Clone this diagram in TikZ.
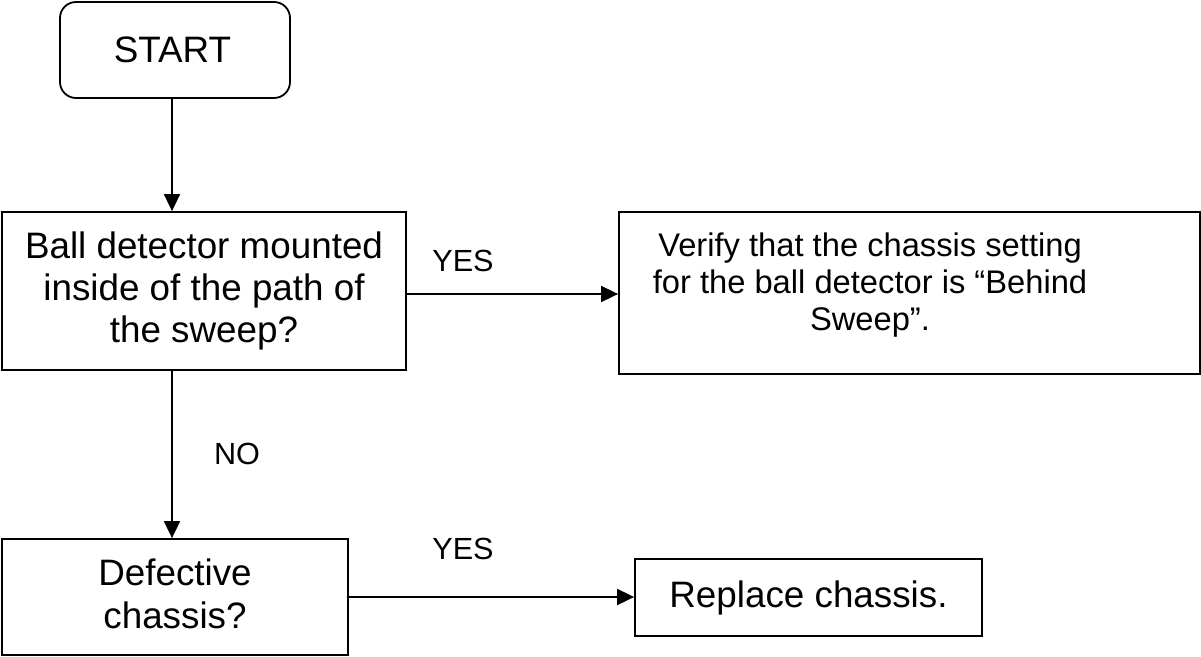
\documentclass[tikz,border=0pt]{standalone}
\usepackage{fontspec}
\setmainfont{Liberation Sans}
\usetikzlibrary{arrows.meta}
\begin{document}
\begin{tikzpicture}[x=1pt,y=-1pt,
  box/.style={draw, line width=1.8pt, inner sep=0pt, align=center, font=\fontsize{36.8}{42.3}\selectfont},
  lbl/.style={font=\fontsize{30.6}{35}\selectfont, inner sep=0pt},
  arr/.style={line width=1.8pt, -{Triangle[length=17pt,width=16pt]}}]
\useasboundingbox (0,0) rectangle (1201,656);
\node[box, rounded corners=16pt, minimum width=230pt, minimum height=96pt] (start) at (175,50) {\hspace*{-5pt}START};
\node[box, minimum width=404pt, minimum height=158pt] (b1) at (204,291) {Ball detector mounted\\inside of the path of\\the sweep?};
\node[box, minimum width=581pt, minimum height=162pt,
  label={[align=center, inner sep=0pt, font=\fontsize{32.7}{36.7}\selectfont, shift={(-39.5pt,8pt)}]center:{Verify that the chassis setting\\for the ball detector is “Behind\\Sweep”.}}] (b2) at (909.5,293) {};
\node[box, minimum width=346pt, minimum height=116pt,
  label={[align=center, inner sep=0pt, font=\fontsize{36.8}{43}\selectfont, shift={(0pt,3pt)}]center:{Defective\\chassis?}}] (b3) at (175,597) {};
\node[box, minimum width=347pt, minimum height=77pt] (b4) at (808.5,597.5) {Replace chassis.};
\node[lbl] (yes1) at (463,261) {YES};
\node[lbl] (no) at (237,454) {NO};
\node[lbl] (yes2) at (463,549) {YES};
\draw[arr] ([xshift=-3pt]start.south) -- ([xshift=-3pt]start.south |- b1.north);
\draw[arr] ([yshift=-3pt]b1.east) -- ([yshift=-3pt]b1.east -| b2.west);
\draw[arr] ([xshift=-3pt]b3.north |- b1.south) -- ([xshift=-3pt]b3.north);
\draw[arr] (b3.east) -- (b3.east -| b4.west);
\end{tikzpicture}
\end{document}
